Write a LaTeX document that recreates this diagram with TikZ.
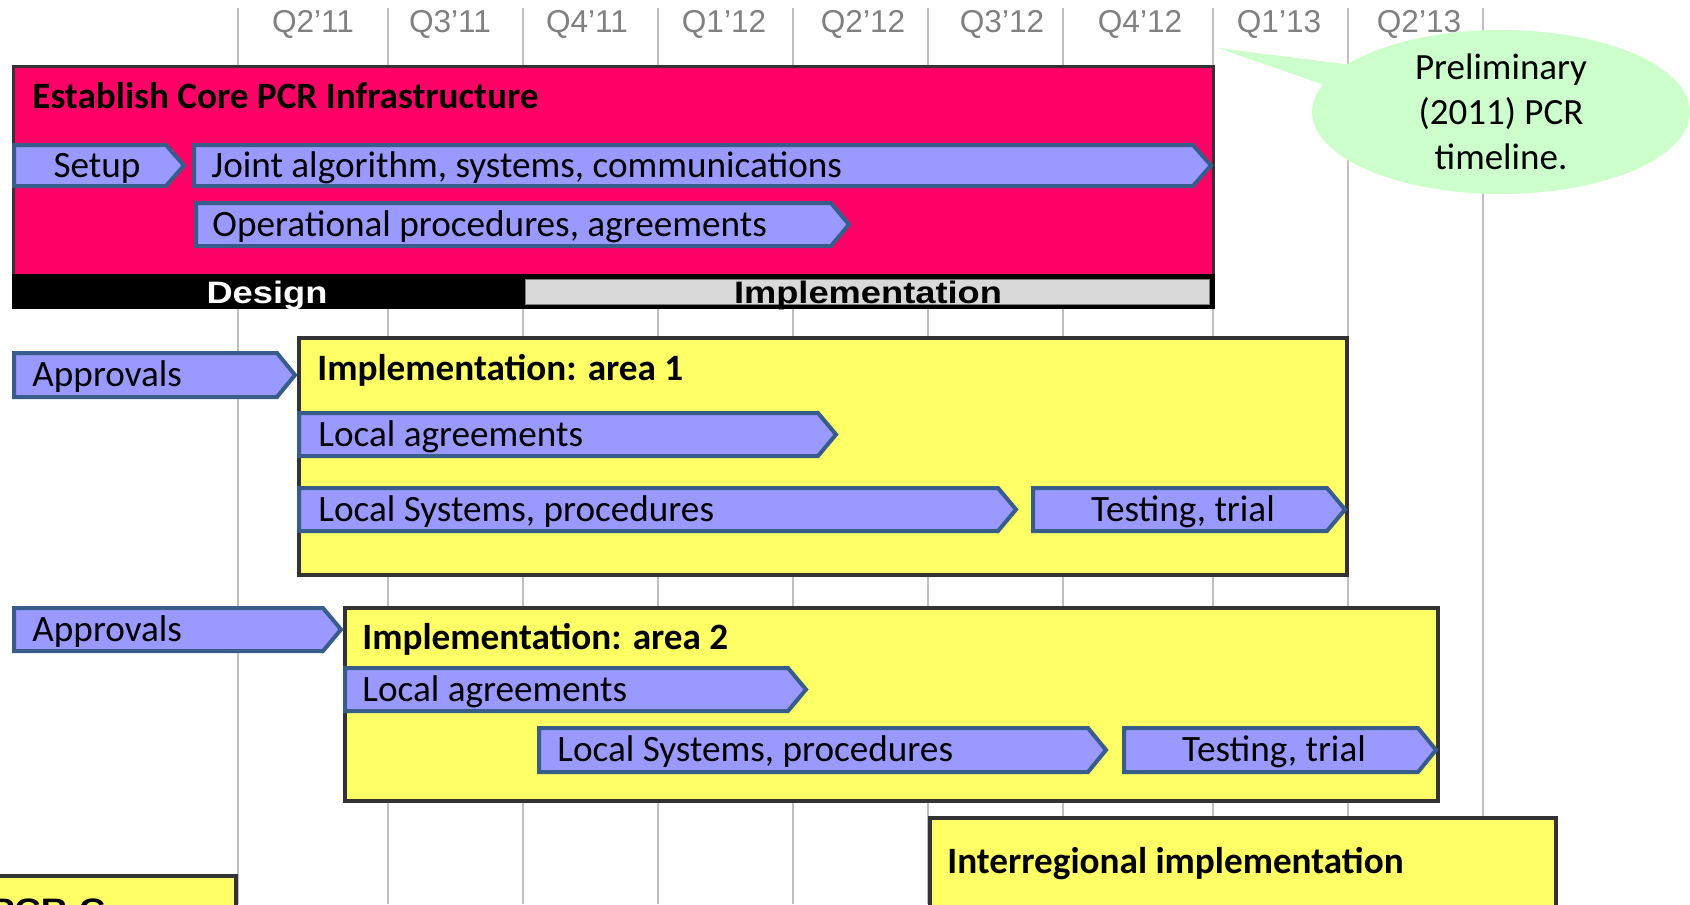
\documentclass[tikz,border=0pt]{standalone}
\usepackage{fontspec}
\setmainfont{Carlito}
\newfontfamily\quarterfont{Liberation Sans}
\newfontfamily\phasefont[FakeStretch=1.17]{Liberation Sans}
\usetikzlibrary{shapes.callouts}

\definecolor{pcrred}{RGB}{255,0,102}
\definecolor{taskfill}{RGB}{153,153,255}
\definecolor{taskline}{RGB}{56,93,138}
\definecolor{areafill}{RGB}{255,255,102}
\definecolor{boxline}{RGB}{51,51,51}
\definecolor{notefill}{RGB}{204,255,204}
\definecolor{gridgray}{RGB}{191,191,191}
\definecolor{labelgray}{RGB}{128,128,128}
\definecolor{implgray}{RGB}{217,217,217}

\newcommand{\taskshape}[4]{\draw[task] (#1,#3) -- ({#2-18},#3) -- (#2,{(#3+#4)/2}) -- ({#2-18},#4) -- (#1,#4) -- cycle;}

\begin{document}
\begin{tikzpicture}[x=0.5pt, y=-0.5pt,
    gridline/.style={draw=gridgray, line width=1pt},
    quarter/.style={font=\quarterfont\fontsize{15.8}{18}\selectfont, text=labelgray, inner sep=0pt, anchor=base},
    task/.style={fill=taskfill, draw=taskline, line width=2pt},
    tasktext/.style={font=\fontsize{18.6}{22}\selectfont, inner sep=0pt, anchor=base west},
    area/.style={fill=areafill, draw=boxline, line width=2pt},
    areatitle/.style={font=\bfseries\fontsize{18.6}{22}\selectfont, inner sep=0pt, anchor=base west},
    phasetext/.style={font=\phasefont\bfseries\fontsize{15.5}{18}\selectfont, inner sep=0pt, anchor=base}]
    \useasboundingbox (0,0) rectangle (1690,904);

    \foreach \gx in {238,388,523,658,793,928,1063,1213,1348,1483}
        \draw[gridline] (\gx,8) -- (\gx,904);
    \foreach \qx/\qname [count=\qi] in {313/Q2’11,450/Q3’11,587/Q4’11,724/Q1’12,863/Q2’12,1002/Q3’12,1140/Q4’12,1279/Q1’13,1419/Q2’13}
        \node[quarter] (q\qi) at (\qx,33) {\qname};

    \draw[fill=pcrred, draw=boxline, line width=1.5pt] (13.5,66.5) rectangle (1213.5,307.5);
    \fill[black] (12,274) rectangle (1215,309);
    \draw[fill=implgray, draw=gray, line width=0.5pt] (525,279) rectangle (1209,304);
    \node[phasetext, text=white] (design) at (267,303) {Design};
    \node[phasetext] (impl) at (868,303) {Implementation};
    \node[areatitle] (core) at (32,109) {Establish Core PCR Infrastructure};

    \taskshape{14}{184}{145}{186}
    \node[tasktext, anchor=base] (setup) at (97,177) {Setup};
    \taskshape{194}{1211}{145}{186}
    \node[tasktext] (joint) at (211,177) {Joint algorithm, systems, communications};
    \taskshape{196}{849}{203}{246}
    \node[tasktext] (oper) at (212,236) {Operational procedures, agreements};

    \draw[area] (299,338) rectangle (1347,575);
    \node[areatitle] (area1) at (317,380) {Implementation: area 1};
    \taskshape{14}{295}{353}{397}
    \node[tasktext] (appr1) at (32,386) {Approvals};
    \taskshape{299}{836}{413}{456}
    \node[tasktext] (local1) at (318,446) {Local agreements};
    \taskshape{299}{1016}{488}{531}
    \node[tasktext] (sys1) at (318,521) {Local Systems, procedures};
    \taskshape{1033}{1345}{488}{531}
    \node[tasktext, anchor=base] (test1) at (1183,521) {Testing, trial};

    \draw[area] (345,608) rectangle (1438,801);
    \node[areatitle] (area2) at (362,649) {Implementation: area 2};
    \taskshape{14}{341}{608}{651}
    \node[tasktext] (appr2) at (32,641) {Approvals};
    \taskshape{345}{806}{668}{711}
    \node[tasktext] (local2) at (362,701) {Local agreements};
    \taskshape{539}{1106}{728}{772}
    \node[tasktext] (sys2) at (557,761) {Local Systems, procedures};
    \taskshape{1124}{1436}{728}{772}
    \node[tasktext, anchor=base] (test2) at (1274,761) {Testing, trial};

    \draw[area] (930,818) rectangle (1556,920);
    \node[areatitle] (inter) at (947,873) {Interregional implementation};
    \draw[area] (-10,876) rectangle (236,920);
    \node[phasetext, anchor=base west] (pcrc) at (-10,920) {PCR-C};

    \node[ellipse callout, fill=notefill, minimum width=189pt, minimum height=75pt, inner sep=0pt,
        callout absolute pointer={(1218,48)}, callout pointer arc=16, align=center,
        font=\fontsize{18.5}{22.5}\selectfont] (note) at (1501,112) {Preliminary\\(2011) PCR\\timeline.};
\end{tikzpicture}
\end{document}
